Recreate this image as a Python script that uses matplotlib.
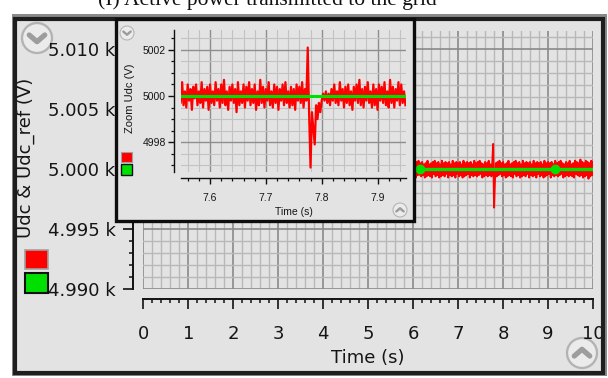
import numpy as np
import matplotlib
matplotlib.use("Agg")
import matplotlib.pyplot as plt
from matplotlib.ticker import MultipleLocator, FuncFormatter
from matplotlib.patches import Rectangle, Circle

W, H = 608, 378

# DC-link voltage, 6 s .. 10 s at 20 ms, deviation from the reference in 0.1 V
udc_start, udc_step = 6.0, 0.02
udc_dev = [
    5, -6, 4, -7, 6, -5, 7, -4, 5, -6,
    6, -5, 4, -7, 5, -6, 7, -5, 4, -6,
    5, -7, 6, -4, 7, -6, 5, -5, 6, -7,
    4, -6, 7, -5, 5, -6, 6, -4, 5, -7,
    6, -5, 4, -6, 7, -5, 5, -7, 6, -4,
    5, -6, 6, -5, 4, -7, 7, -6, 5, -5,
    6, -4, 5, -7, 6, -5, 4, -6, 7, -5,
    5, -6, 6, -5, 7, -4, 5, -7, 4, -6,
    6, -5, 5, -6, 7, -5, 4, -6, 5, 21,
    -32, -8, 5, -6, 6, -5, 7, -4, 5, -6,
    6, -5, 4, -7, 5, -6, 7, -5, 4, -6,
    5, -7, 6, -4, 7, -6, 5, -5, 6, -7,
    4, -6, 7, -5, 5, -6, 6, -4, 5, -7,
    6, -5, 4, -6, 7, -5, 5, -7, 6, -4,
    5, -6, 6, -5, 4, -7, 7, -6, 5, -5,
    6, -4, 5, -7, 6, -5, 4, -6, 7, -5,
    5, -6, 6, -5, 7, -4, 5, -7, 4, -6,
    6, -5, 5, -6, 7, -5, 4, -6, 5, -7,
    7, -4, 6, -5, 5, -6, 8, -5, 6, -7,
    5, -6, 7, -5, 6, -8, 5, -6, 7, -5,
    6,
]

# zoom window around the disturbance, 2.5 ms samples, deviation in 0.1 V
zoom_start, zoom_step = 7.545, 0.0025
zoom_dev = [
    4, -3, 6, -4, 2, -5, 5, -2, 3, -6,
    4, -1, 5, -4, 2, -3, 6, -5, 3, -2,
    4, -6, 5, -3, 2, -4, 6, -2, 3, -5,
    5, -3, 7, -4, 2, -6, 4, -2, 5, -3,
    3, -7, 6, -4, 2, -3, 5, -5, 4, -2,
    6, -4, 3, -3, 5, -6, 2, -4, 7, -3,
    4, -5, 3, -2, 6, -4, 2, -5, 5, -3,
    4, -6, 3, -2, 5, -4, 6, -3, 2, -5,
    4, -4, 3, -6, 5, -2, 4, -3, 6, -5,
    3, -2, 21, -8, -31, -7, -14, -21, -4, -10,
    -3, -7, -2, 1, -2, 2, -3, 1, -4, 3,
    -2, 5, -3, 2, -4, 6, -2, 3, -5, 4,
    -3, 5, -4, 2, -6, 4, -2, 5, -3, 7,
    -4, 3, -5, 4, -2, 6, -3, 2, -5, 5,
    -4, 3, -6, 5, -2, 4, -3, 6, -4, 2,
    -5, 7, -3, 4, -5, 3, -2, 6, -4, 5,
    -3, 2, -4,
]

udc_ref = 5000.0
ref_span = [0.0, 10.0]
ref_marks = [0.16, 3.16, 6.16, 9.16]

RED = "#ff0000"
GREEN = "#00e000"
BG = "#e3e3e3"
INK = "#151515"

udc_t = udc_start + udc_step * np.arange(len(udc_dev))
udc = udc_ref + np.array(udc_dev) / 10.0
zoom_t = zoom_start + zoom_step * np.arange(len(zoom_dev))
zoom_udc = udc_ref + np.array(zoom_dev) / 10.0

fig = plt.figure(figsize=(W / 100, H / 100), dpi=100, facecolor="white")


def overlay(z):
    a = fig.add_axes([0, 0, 1, 1], zorder=z)
    a.set_xlim(0, W)
    a.set_ylim(H, 0)
    a.axis("off")
    return a


def button(a, cx, cy, r, up):
    a.add_patch(Circle((cx, cy), r, facecolor="#ebebeb", edgecolor="#b3b3b3", lw=r / 9))
    d = r * 0.45
    s = -1 if up else 1
    a.plot([cx - d * 1.15, cx, cx + d * 1.15],
           [cy - s * d * 0.45, cy + s * d * 0.55, cy - s * d * 0.45],
           color="#9d9d9d", lw=r / 4, solid_capstyle="round", solid_joinstyle="round")


def axes_rect(l, t, r, b):
    return [l / W, 1 - b / H, (r - l) / W, (b - t) / H]


# panel background and caption
bg = overlay(0)
bg.add_patch(Rectangle((12, 14), 595, 362, facecolor="#8a8a8a", edgecolor="none"))
bg.add_patch(Rectangle((15, 17), 588, 356, facecolor=BG, edgecolor="none"))
bg.text(267, 5.5, "(I) Active power transmitted to the grid", ha="center", va="baseline",
        fontsize=15.5, family="Liberation Serif", color="#111111")
button(bg, 37, 38, 15, up=False)
button(bg, 582, 353, 15, up=True)

# main plot
ax = fig.add_axes(axes_rect(143.3, 31, 593, 289.3), zorder=1)
ax.set_facecolor(BG)
ax.plot(udc_t, udc, color=RED, lw=1.4, zorder=3)
ax.plot(ref_marks, [udc_ref] * len(ref_marks), "o", color=RED, ms=8, zorder=3)
ax.plot(ref_span, [udc_ref, udc_ref], color=GREEN, lw=2.4, zorder=4)
ax.plot(ref_marks, [udc_ref] * len(ref_marks), "o", color=GREEN, ms=6, zorder=4)
ax.set_xlim(0, 10)
ax.set_ylim(4990, 5011.5)
ax.xaxis.set_major_locator(MultipleLocator(1))
ax.xaxis.set_minor_locator(MultipleLocator(0.2))
ax.yaxis.set_major_locator(MultipleLocator(5))
ax.yaxis.set_minor_locator(MultipleLocator(1))
ax.yaxis.set_major_formatter(FuncFormatter(lambda v, p: f"{v / 1000:.3f} k"))
ax.set_axisbelow(True)
ax.grid(which="major", color="#8a8a8a", lw=1.2)
ax.grid(which="minor", color="#b8b8b8", lw=1.0)
for side in ("top", "right"):
    ax.spines[side].set_visible(False)
ax.spines["left"].set_position(("outward", 7.6))
ax.spines["bottom"].set_position(("outward", 7.0))
for side in ("left", "bottom"):
    ax.spines[side].set_linewidth(1.4)
    ax.spines[side].set_color("#111111")
ax.tick_params(which="major", direction="out", length=7, width=1.2, colors="#111111",
               labelsize=13, labelcolor=INK)
ax.tick_params(which="minor", direction="out", length=3.2, width=1.1, colors="#111111")
ax.tick_params(axis="x", which="major", pad=12)
ax.tick_params(axis="y", which="major", pad=5.5)
ax.set_xlabel("Time (s)", fontsize=13, color=INK, va="center")
ax.xaxis.set_label_coords(0.5, -0.265)
ax.set_ylabel("Udc & Udc_ref (V)", fontsize=13, color=INK, va="center")
ax.yaxis.set_label_coords(-0.262, 0.51)

# legend swatches and frame
deco = overlay(2)
deco.add_patch(Rectangle((25, 250), 23, 19, facecolor=RED, edgecolor="#a0a0a0", lw=1.2))
deco.add_patch(Rectangle((25, 273), 23, 20, facecolor=GREEN, edgecolor="#111111", lw=1.5))
deco.add_patch(Rectangle((15, 18.5), 588, 354.5, facecolor="none", edgecolor="#1e1e1e", lw=3))

# zoom panel
ibg = overlay(3)
ibg.add_patch(Rectangle((115.5, 18.5), 298, 202, facecolor=BG, edgecolor="#0d0d0d", lw=2.4))

ix = fig.add_axes(axes_rect(181, 30, 406, 171.7), zorder=4)
ix.set_facecolor(BG)
ix.plot(zoom_t, zoom_udc, color=RED, lw=1.6, zorder=3)
ix.plot([zoom_t[0], zoom_t[-1]], [udc_ref, udc_ref], color=GREEN, lw=2.2, zorder=4)
ix.set_xlim(7.548, 7.951)
ix.set_ylim(4996.72, 5002.86)
ix.xaxis.set_major_locator(MultipleLocator(0.1))
ix.xaxis.set_minor_locator(MultipleLocator(0.02))
ix.yaxis.set_major_locator(MultipleLocator(2))
ix.yaxis.set_minor_locator(MultipleLocator(0.5))
ix.xaxis.set_major_formatter(FuncFormatter(lambda v, p: f"{v:.1f}"))
ix.yaxis.set_major_formatter(FuncFormatter(lambda v, p: f"{v:.0f}"))
ix.set_axisbelow(True)
ix.grid(which="major", color="#8e8e8e", lw=1.0)
ix.grid(which="minor", color="#c2c2c2", lw=0.8)
for side in ("top", "right"):
    ix.spines[side].set_visible(False)
ix.spines["left"].set_position(("outward", 5))
ix.spines["bottom"].set_position(("outward", 4.5))
for side in ("left", "bottom"):
    ix.spines[side].set_linewidth(1.0)
    ix.spines[side].set_color("#111111")
ix.tick_params(which="major", direction="out", length=4.5, width=1.0, colors="#111111",
               labelsize=7.5, labelcolor=INK)
ix.tick_params(which="minor", direction="out", length=2.2, width=0.9, colors="#111111")
ix.tick_params(axis="x", which="major", pad=6.5)
ix.tick_params(axis="y", which="major", pad=1.5)
for lab in ix.get_xticklabels() + ix.get_yticklabels():
    lab.set_family("Liberation Sans")
ix.set_xlabel("Time (s)", fontsize=7.5, family="Liberation Sans", color=INK, va="center")
ix.xaxis.set_label_coords(0.5, -0.284)
ix.set_ylabel("Zoom Udc (V)", fontsize=8, family="Liberation Sans", color=INK, va="center")
ix.yaxis.set_label_coords(-0.227, 0.52)

ideco = overlay(5)
ideco.add_patch(Rectangle((121, 152), 11, 10, facecolor=RED, edgecolor="#a0a0a0", lw=0.8))
ideco.add_patch(Rectangle((121, 164), 11, 11, facecolor=GREEN, edgecolor="#111111", lw=1.0))
button(ideco, 127, 33, 7, up=False)
button(ideco, 400, 210, 7, up=True)

fig.savefig("out.png", dpi=100)
